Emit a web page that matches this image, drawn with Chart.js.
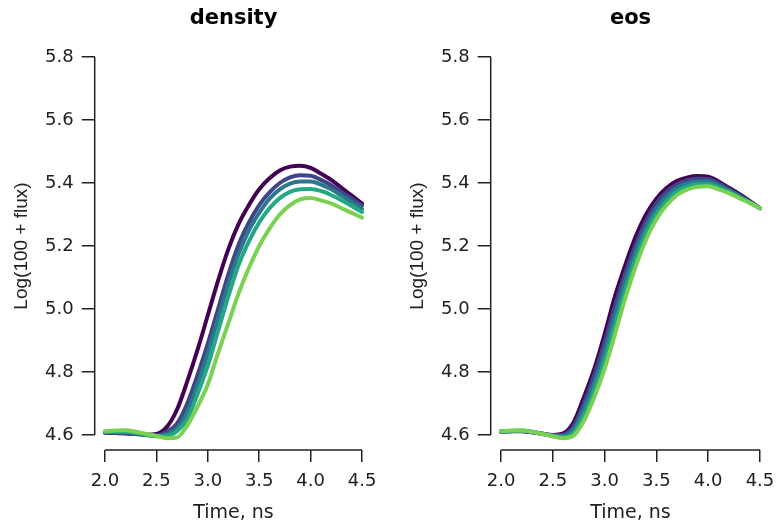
<!DOCTYPE html>
<html>
<head>
<meta charset="utf-8">
<script src="https://cdn.jsdelivr.net/npm/chart.js@4.4.1/dist/chart.umd.min.js"></script>
<style>
    html, body { margin: 0; padding: 0; background: #fff; }
    #wrap { position: relative; width: 776px; height: 527px; }
    .panel { position: absolute; top: 0; }
</style>
</head>
<body>
<div id="wrap">
    <canvas id="densityChart" class="panel" style="left:0" width="380" height="527"></canvas>
    <canvas id="eosChart" class="panel" style="left:396px" width="380" height="527"></canvas>
</div>
<script>
// time axis (ns) and tick values
const timeNs = [2.0, 2.1, 2.2, 2.3, 2.4, 2.5, 2.6, 2.7, 2.8, 2.9, 3.0, 3.1, 3.2, 3.3, 3.4, 3.5, 3.6, 3.7, 3.8, 3.9, 4.0, 4.1, 4.2, 4.3, 4.4, 4.5];
const xTicks = [2.0, 2.5, 3.0, 3.5, 4.0, 4.5];
const yTicks = [4.6, 4.8, 5.0, 5.2, 5.4, 5.6, 5.8];
const lineColors = ['#440154', '#414487', '#2A788E', '#22A884', '#7AD151'];

// density panel
const density1 = [4.607, 4.606, 4.605, 4.603, 4.601, 4.603, 4.625, 4.680, 4.770, 4.870, 4.980, 5.090, 5.190, 5.270, 5.330, 5.380, 5.415, 5.440, 5.452, 5.455, 5.448, 5.430, 5.410, 5.385, 5.360, 5.335];
const density2 = [4.608, 4.607, 4.606, 4.603, 4.600, 4.598, 4.610, 4.636, 4.700, 4.790, 4.890, 5.000, 5.110, 5.205, 5.275, 5.330, 5.370, 5.400, 5.418, 5.425, 5.423, 5.410, 5.393, 5.372, 5.350, 5.328];
const density3 = [4.609, 4.609, 4.608, 4.605, 4.601, 4.597, 4.603, 4.622, 4.673, 4.760, 4.860, 4.970, 5.080, 5.175, 5.250, 5.305, 5.350, 5.380, 5.398, 5.405, 5.405, 5.395, 5.380, 5.360, 5.340, 5.318];
const density4 = [4.610, 4.611, 4.611, 4.607, 4.601, 4.596, 4.597, 4.612, 4.650, 4.730, 4.820, 4.930, 5.040, 5.140, 5.215, 5.275, 5.320, 5.352, 5.372, 5.380, 5.381, 5.375, 5.362, 5.345, 5.327, 5.308];
const density5 = [4.612, 4.614, 4.615, 4.610, 4.603, 4.597, 4.590, 4.592, 4.630, 4.690, 4.760, 4.860, 4.955, 5.050, 5.130, 5.200, 5.255, 5.300, 5.330, 5.348, 5.352, 5.345, 5.335, 5.320, 5.305, 5.290];

// eos panel
const eos1 = [4.610, 4.612, 4.612, 4.609, 4.604, 4.600, 4.605, 4.640, 4.720, 4.810, 4.920, 5.040, 5.140, 5.230, 5.300, 5.350, 5.385, 5.407, 5.418, 5.422, 5.420, 5.405, 5.385, 5.365, 5.343, 5.320];
const eos2 = [4.611, 4.612, 4.613, 4.609, 4.604, 4.599, 4.601, 4.628, 4.700, 4.790, 4.895, 5.010, 5.115, 5.205, 5.280, 5.335, 5.372, 5.396, 5.409, 5.414, 5.413, 5.399, 5.380, 5.361, 5.341, 5.320];
const eos3 = [4.611, 4.613, 4.613, 4.610, 4.604, 4.598, 4.597, 4.618, 4.683, 4.765, 4.865, 4.980, 5.090, 5.183, 5.260, 5.318, 5.358, 5.385, 5.399, 5.405, 5.405, 5.393, 5.376, 5.358, 5.340, 5.320];
const eos4 = [4.612, 4.613, 4.614, 4.610, 4.603, 4.597, 4.593, 4.607, 4.663, 4.742, 4.837, 4.950, 5.062, 5.160, 5.240, 5.302, 5.344, 5.373, 5.390, 5.396, 5.397, 5.386, 5.372, 5.355, 5.338, 5.320];
const eos5 = [4.612, 4.614, 4.614, 4.610, 4.603, 4.596, 4.590, 4.598, 4.645, 4.720, 4.810, 4.920, 5.035, 5.135, 5.220, 5.285, 5.330, 5.362, 5.380, 5.388, 5.390, 5.380, 5.368, 5.352, 5.337, 5.320];

const axisColor = '#222';

// R-style detached axis lines: only span first..last tick
const axisLines = {
    id: 'axisLines',
    afterDraw(chart) {
        const { ctx, chartArea, scales } = chart;
        const x = scales.x, y = scales.y;
        ctx.save();
        ctx.strokeStyle = axisColor;
        ctx.lineWidth = 1.5;
        ctx.beginPath();
        ctx.moveTo(chartArea.left, y.getPixelForValue(yTicks[0]));
        ctx.lineTo(chartArea.left, y.getPixelForValue(yTicks[yTicks.length - 1]));
        ctx.moveTo(x.getPixelForValue(xTicks[0]), chartArea.bottom);
        ctx.lineTo(x.getPixelForValue(xTicks[xTicks.length - 1]), chartArea.bottom);
        ctx.stroke();
        ctx.restore();
    }
};

function makeChart(canvasId, title, series, padRight) {
    const datasets = series.map((vals, i) => ({
        label: 'series ' + (i + 1),
        data: timeNs.map((t, j) => ({ x: t, y: vals[j] })),
        borderColor: lineColors[i],
        borderWidth: 4,
        pointRadius: 0,
        fill: false,
        cubicInterpolationMode: 'monotone',
        borderCapStyle: 'round',
        order: series.length - i
    }));

    return new Chart(document.getElementById(canvasId).getContext('2d'), {
        type: 'line',
        data: { datasets: datasets },
        plugins: [axisLines],
        options: {
            responsive: false,
            animation: false,
            layout: { padding: { left: 0, right: padRight, top: 0, bottom: 0 } },
            plugins: {
                legend: { display: false },
                tooltip: { enabled: false },
                title: {
                    display: true,
                    text: title,
                    fullSize: false,
                    color: '#000',
                    font: { family: 'DejaVu Sans', size: 21, weight: 'bold', lineHeight: 1.2 },
                    padding: { top: 6, bottom: 10.7 }
                }
            },
            scales: {
                x: {
                    type: 'linear',
                    min: 1.9,
                    max: 4.6,
                    afterBuildTicks: s => { s.ticks = xTicks.map(v => ({ value: v })); },
                    afterFit: s => { s.height = 76.9; s.paddingLeft = 0; s.paddingRight = 0; },
                    border: { display: false },
                    grid: { drawOnChartArea: false, drawTicks: true, tickLength: 12, color: axisColor, lineWidth: 1.5 },
                    ticks: {
                        autoSkip: false,
                        maxRotation: 0,
                        padding: 8,
                        color: '#222',
                        font: { family: 'DejaVu Sans', size: 18 },
                        callback: v => v.toFixed(1)
                    },
                    title: {
                        display: true,
                        text: 'Time, ns',
                        color: '#222',
                        font: { family: 'DejaVu Sans', size: 19, lineHeight: 1.2 },
                        padding: { top: 0, bottom: 3 }
                    }
                },
                y: {
                    min: 4.552,
                    max: 5.848,
                    afterBuildTicks: s => { s.ticks = yTicks.map(v => ({ value: v })); },
                    afterFit: s => { s.width = 94.7; s.paddingTop = 0; s.paddingBottom = 0; },
                    border: { display: false },
                    grid: { drawOnChartArea: false, drawTicks: true, tickLength: 13, color: axisColor, lineWidth: 1.5 },
                    ticks: {
                        autoSkip: false,
                        padding: 8,
                        color: '#222',
                        font: { family: 'DejaVu Sans', size: 18 },
                        callback: v => v.toFixed(1)
                    },
                    title: {
                        display: true,
                        text: 'Log(100 + flux)',
                        color: '#222',
                        font: { family: 'Liberation Sans', size: 19, lineHeight: 1.2 },
                        padding: { top: 10, bottom: 0 }
                    }
                }
            }
        }
    });
}

makeChart('densityChart', 'density', [density1, density2, density3, density4, density5], 7.7);
makeChart('eosChart', 'eos', [eos1, eos2, eos3, eos4, eos5], 5.7);
</script>
</body>
</html>
